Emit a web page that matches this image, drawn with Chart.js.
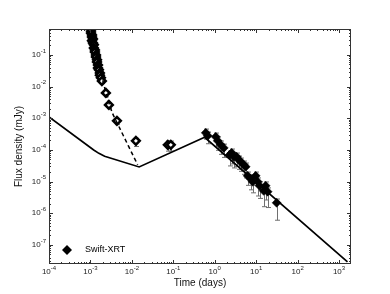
<!DOCTYPE html>
<html>
<head>
<meta charset="utf-8">
<script src="https://cdn.jsdelivr.net/npm/chart.js@4/dist/chart.umd.min.js"></script>
<style>
  html, body { margin: 0; padding: 0; background: #fff; }
  #wrap { width: 390px; height: 294px; }
</style>
</head>
<body>
<div id="wrap"><canvas id="c" width="390" height="294"></canvas></div>
<script>
// early XRT points (open diamonds)
const earlyT = [1.03e-3, 1.03e-3, 1.09e-3, 1.09e-3, 1.15e-3, 1.09e-3, 1.15e-3, 1.21e-3, 1.21e-3, 1.28e-3,
                1.28e-3, 1.36e-3, 1.36e-3, 1.44e-3, 1.44e-3, 1.52e-3, 1.52e-3, 1.60e-3, 1.69e-3, 1.69e-3,
                1.79e-3, 1.89e-3, 2.36e-3, 2.79e-3, 4.36e-3, 0.0125, 0.0736, 0.087];
const earlyF = [0.57, 0.49, 0.43, 0.37, 0.32, 0.28, 0.24, 0.21, 0.166, 0.144,
                0.124, 0.10, 0.086, 0.070, 0.060, 0.048, 0.039, 0.034, 0.027, 0.023,
                0.019, 0.015, 6.3e-3, 2.65e-3, 8.3e-4, 1.94e-4, 1.45e-4, 1.45e-4];
const earlyErrLo = [0.05, 0.05, 0.05, 0.05, 0.05, 0.05, 0.05, 0.05, 0.05, 0.05,
                    0.05, 0.05, 0.05, 0.05, 0.05, 0.05, 0.05, 0.05, 0.05, 0.05,
                    0.06, 0.08, 0.12, 0.12, 0.12, 0.18, 0.2, 0.2];
const earlyErrHi = [0.03, 0.03, 0.03, 0.03, 0.03, 0.03, 0.03, 0.03, 0.03, 0.03,
                    0.03, 0.03, 0.03, 0.03, 0.03, 0.03, 0.03, 0.03, 0.03, 0.03,
                    0.04, 0.05, 0.06, 0.06, 0.06, 0.08, 0.12, 0.12];

// late XRT points (filled diamonds)
const lateT = [0.607, 0.678, 1.06, 1.18, 1.40, 1.65, 2.30, 2.57, 2.87, 3.39, 3.79, 4.24,
               5.0, 5.58, 6.24, 7.37, 8.24, 9.73, 10.9, 12.1, 15.2, 16.9, 18.9, 31.2];
const lateF = [3.46e-4, 2.79e-4, 2.59e-4, 1.94e-4, 1.45e-4, 1.16e-4, 7.0e-5, 8.1e-5, 6.05e-5, 6.05e-5,
               4.87e-5, 4.21e-5, 3.39e-5, 2.93e-5, 1.52e-5, 1.23e-5, 9.9e-6, 1.52e-5, 9.9e-6, 7.4e-6,
               5.1e-6, 7.4e-6, 4.8e-6, 2.14e-6];
const lateErrLo = [0.2, 0.25, 0.3, 0.3, 0.3, 0.3, 0.35, 0.35, 0.35, 0.3, 0.3, 0.3,
                   0.3, 0.35, 0.3, 0.35, 0.35, 0.3, 0.45, 0.4, 0.5, 0.45, 0.5, 0.55];
const lateErrHi = [0.12, 0.12, 0.12, 0.12, 0.12, 0.12, 0.12, 0.12, 0.12, 0.12, 0.12, 0.12,
                   0.12, 0.12, 0.12, 0.12, 0.12, 0.12, 0.12, 0.12, 0.12, 0.12, 0.12, 0.12];

// model curves
const modelT = [1e-4, 1.2e-3, 1.6e-3, 2.2e-3, 0.015, 0.57, 1600];
const modelF = [1.1e-3, 1.0e-4, 7.8e-5, 6.3e-5, 2.9e-5, 2.5e-4, 2.9e-8];
const dashT = [1.0e-3, 1.5e-3, 2.0e-3, 2.5e-3, 3.3e-3, 5.0e-3, 0.0138];
const dashF = [0.5, 0.06, 0.015, 5e-3, 1.6e-3, 5.1e-4, 3.4e-5];

const xExp = [-4, -3, -2, -1, 0, 1, 2, 3];
const yExp = [-7, -6, -5, -4, -3, -2, -1];

const toXY = (ts, fs) => ts.map((t, i) => ({ x: t, y: fs[i] }));

const errorBars = {
  id: 'errorBars',
  beforeDatasetsDraw(chart) {
    const ctx = chart.ctx, xs = chart.scales.x, ys = chart.scales.y;
    ctx.save();
    ctx.beginPath();
    ctx.rect(chart.chartArea.left, chart.chartArea.top, chart.chartArea.width, chart.chartArea.height);
    ctx.clip();
    ctx.strokeStyle = '#6f6f6f';
    ctx.lineWidth = 1;
    chart.data.datasets.forEach(ds => {
      if (!ds.errLo) return;
      ds.data.forEach((p, i) => {
        const px = Math.round(xs.getPixelForValue(p.x)) + 0.5;
        const y1 = ys.getPixelForValue(p.y / Math.pow(10, ds.errLo[i]));
        const y2 = ys.getPixelForValue(p.y * Math.pow(10, ds.errHi[i]));
        ctx.beginPath();
        ctx.moveTo(px, y1); ctx.lineTo(px, y2);
        ctx.moveTo(px - 2.5, y1); ctx.lineTo(px + 2.5, y1);
        ctx.moveTo(px - 2.5, y2); ctx.lineTo(px + 2.5, y2);
        ctx.stroke();
      });
    });
    ctx.restore();
  }
};

function drawPow(ctx, x, y, exp, align) {
  ctx.font = '8px "Liberation Sans", Arial, sans-serif';
  const base = ctx.measureText('10').width;
  ctx.font = '6px "Liberation Sans", Arial, sans-serif';
  const sup = ctx.measureText(String(exp)).width;
  const w = base + sup;
  let x0 = align === 'center' ? x - w / 2 : x - w;
  ctx.textAlign = 'left';
  ctx.textBaseline = 'middle';
  ctx.font = '8px "Liberation Sans", Arial, sans-serif';
  ctx.fillText('10', x0, y);
  ctx.font = '6px "Liberation Sans", Arial, sans-serif';
  ctx.fillText(String(exp), x0 + base, y - 4);
}

const frame = {
  id: 'frame',
  afterDraw(chart) {
    const ctx = chart.ctx, a = chart.chartArea, xs = chart.scales.x, ys = chart.scales.y;
    ctx.save();
    ctx.strokeStyle = '#333';
    ctx.lineWidth = 1;
    ctx.strokeRect(a.left + 0.5, a.top + 0.5, a.width - 1, a.height - 1);
    ctx.beginPath();
    // x ticks
    for (let e = -4; e <= 3; e++) {
      for (let m = 1; m <= 9; m++) {
        const v = m * Math.pow(10, e);
        const px = Math.round(xs.getPixelForValue(v)) + 0.5;
        if (px < a.left || px > a.right) continue;
        const len = m === 1 ? 4 : 2;
        ctx.moveTo(px, a.bottom); ctx.lineTo(px, a.bottom - len);
        ctx.moveTo(px, a.top); ctx.lineTo(px, a.top + len);
      }
    }
    // y ticks
    for (let e = -8; e <= 0; e++) {
      for (let m = 1; m <= 9; m++) {
        const v = m * Math.pow(10, e);
        const py = Math.round(ys.getPixelForValue(v)) + 0.5;
        if (py < a.top || py > a.bottom) continue;
        const len = m === 1 ? 4 : 2;
        ctx.moveTo(a.left, py); ctx.lineTo(a.left + len, py);
        ctx.moveTo(a.right, py); ctx.lineTo(a.right - len, py);
      }
    }
    ctx.stroke();

    ctx.fillStyle = '#222';
    xExp.forEach(e => drawPow(ctx, xs.getPixelForValue(Math.pow(10, e)), a.bottom + 8, e, 'center'));
    yExp.forEach(e => drawPow(ctx, a.left - 3, ys.getPixelForValue(Math.pow(10, e)), e, 'right'));

    // axis titles
    ctx.fillStyle = '#111';
    ctx.font = '10px "Liberation Sans", Arial, sans-serif';
    ctx.textAlign = 'center';
    ctx.textBaseline = 'middle';
    ctx.fillText('Time (days)', (a.left + a.right) / 2, 283);
    ctx.save();
    ctx.translate(19, (a.top + a.bottom) / 2);
    ctx.rotate(-Math.PI / 2);
    ctx.fillText('Flux density (mJy)', 0, 0);
    ctx.restore();

    // legend
    ctx.fillStyle = '#000';
    ctx.beginPath();
    ctx.moveTo(67, 245); ctx.lineTo(72, 250); ctx.lineTo(67, 255); ctx.lineTo(62, 250);
    ctx.closePath();
    ctx.fill();
    ctx.font = '9px "Liberation Sans", Arial, sans-serif';
    ctx.textAlign = 'left';
    ctx.fillText('Swift-XRT', 85, 250);
    ctx.restore();
  }
};

new Chart(document.getElementById('c'), {
  type: 'scatter',
  data: {
    datasets: [
      {
        label: 'model', type: 'line', data: toXY(modelT, modelF),
        borderColor: '#000', borderWidth: 1.7, pointRadius: 0, fill: false, tension: 0
      },
      {
        label: 'model early', type: 'line', data: toXY(dashT, dashF),
        borderColor: '#000', borderWidth: 1.5, borderDash: [4, 3], pointRadius: 0, fill: false, tension: 0.3
      },
      {
        label: 'early', data: toXY(earlyT, earlyF), errLo: earlyErrLo, errHi: earlyErrHi,
        pointStyle: 'rectRot', pointRadius: 3.8, pointBorderWidth: 2.6,
        pointBorderColor: '#000', pointBackgroundColor: '#fff'
      },
      {
        label: 'Swift-XRT', data: toXY(lateT, lateF), errLo: lateErrLo, errHi: lateErrHi,
        pointStyle: 'rectRot', pointRadius: 4.5, pointBorderWidth: 0.5,
        pointBorderColor: '#000', pointBackgroundColor: '#000'
      }
    ]
  },
  options: {
    responsive: false,
    animation: false,
    layout: { padding: { left: 49, right: 39, top: 29, bottom: 30 } },
    plugins: { legend: { display: false }, tooltip: { enabled: false } },
    scales: {
      x: {
        type: 'logarithmic', min: 1e-4, max: 1945,
        grid: { display: false }, border: { display: false },
        ticks: { display: false },
        afterFit: s => { s.height = 0; }
      },
      y: {
        type: 'logarithmic', min: 2.5e-8, max: 0.66,
        grid: { display: false }, border: { display: false },
        ticks: { display: false },
        afterFit: s => { s.width = 0; }
      }
    }
  },
  plugins: [errorBars, frame]
});
</script>
</body>
</html>
